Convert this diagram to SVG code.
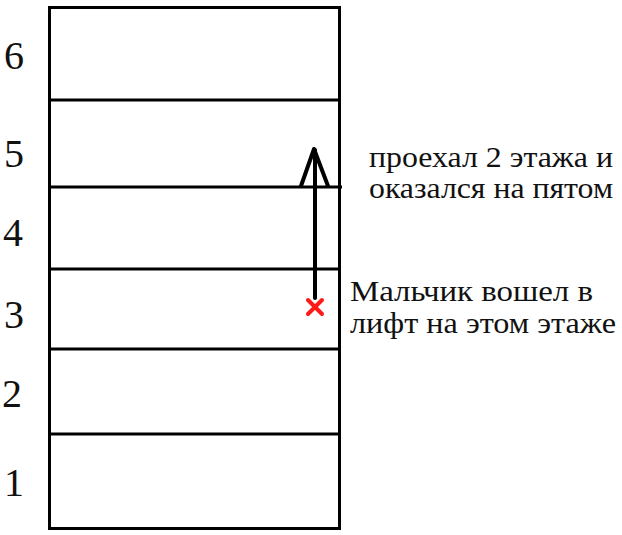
<svg xmlns="http://www.w3.org/2000/svg" width="622" height="535" viewBox="0 0 622 535">
<style>
.ln{stroke:#000;stroke-width:3;fill:none}
.num{font-family:"Liberation Serif","Times New Roman",serif;font-size:40px;fill:#111}
.lbl{font-family:"Liberation Serif","Times New Roman",serif;font-size:30px;fill:#111}
.arr{stroke:#000;stroke-width:4;fill:none;stroke-linecap:round;stroke-linejoin:round}
.mark{stroke:#ff1a1a;stroke-width:4;stroke-linecap:round}
</style>
<rect width="622" height="535" fill="#fff"/>
<g id="building">
<rect class="ln" x="49.5" y="7.5" width="290" height="521"/>
<line class="ln" x1="49" y1="100" x2="339" y2="100"/>
<line class="ln" x1="49" y1="187" x2="342" y2="187"/>
<line class="ln" x1="49" y1="269" x2="339" y2="269"/>
<line class="ln" x1="49" y1="349" x2="339" y2="349"/>
<line class="ln" x1="49" y1="434" x2="339" y2="434"/>
</g>
<g id="floor-numbers">
<text class="num" x="4" y="69">6</text>
<text class="num" x="4" y="167">5</text>
<text class="num" x="3" y="246">4</text>
<text class="num" x="4" y="328">3</text>
<text class="num" x="2" y="407">2</text>
<text class="num" x="4" y="496">1</text>
</g>
<g id="connectors">
<line class="arr" x1="315" y1="298" x2="315" y2="150"/>
<polyline class="arr" points="301,186 314,149 328,186"/>
</g>
<g id="start-mark">
<line class="mark" x1="308" y1="300" x2="322" y2="314"/>
<line class="mark" x1="322" y1="300" x2="308" y2="314"/>
</g>
<g id="label-ride">
<text class="lbl" x="369" y="167" textLength="244" lengthAdjust="spacingAndGlyphs">проехал 2 этажа и</text>
<text class="lbl" x="369" y="198" textLength="244" lengthAdjust="spacingAndGlyphs">оказался на пятом</text>
</g>
<g id="label-start">
<text class="lbl" x="350" y="301" textLength="243" lengthAdjust="spacingAndGlyphs">Мальчик вошел в</text>
<text class="lbl" x="350" y="333" textLength="266" lengthAdjust="spacingAndGlyphs">лифт на этом этаже</text>
</g>
</svg>
